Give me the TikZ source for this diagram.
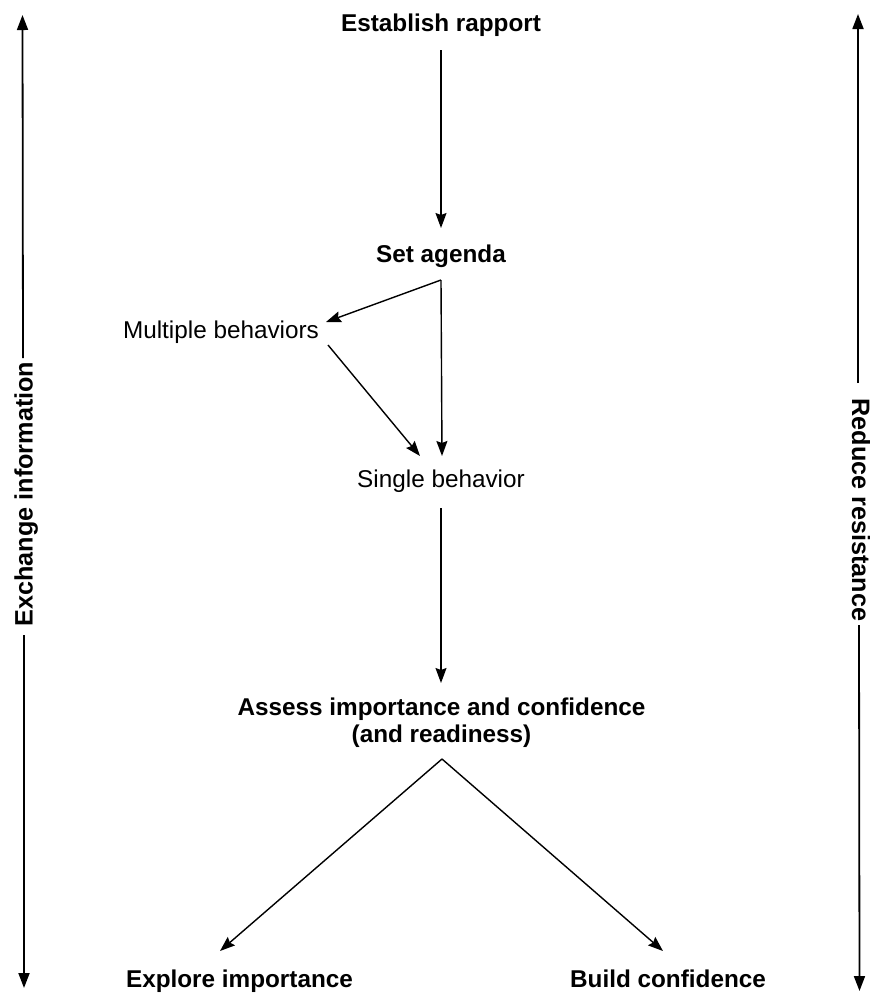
\documentclass[tikz,border=0pt]{standalone}
\usepackage{fontspec}
\setmainfont{Liberation Sans}
\usetikzlibrary{arrows.meta}
\begin{document}
\begin{tikzpicture}[x=1pt,y=-1pt,
  lbl/.style={inner sep=0pt, font=\fontsize{24.3}{27}\selectfont\bfseries, anchor=base, align=center},
  plainlbl/.style={inner sep=0pt, font=\fontsize{24.3}{27}\selectfont, anchor=base},
  side/.style={inner sep=0pt, font=\fontsize{25.2}{28}\selectfont\bfseries, anchor=base},
  flow/.style={line width=1.4pt, -{Stealth[length=15pt,width=11pt,inset=2pt]}},
  sidearrow/.style={line width=1.8pt, -{Triangle[length=15pt,width=11pt]}}]
\useasboundingbox (0,0) rectangle (870,994);

% nodes
\node[lbl] (rapport) at (441,31) {Establish rapport};
\node[lbl] (agenda) at (441,262) {Set agenda};
\node[plainlbl] (multi) at (221,338) {Multiple behaviors};
\node[plainlbl] (single) at (441,487) {Single behavior};
\node[lbl] (assess) at (441.5,742) {Assess importance and confidence\\(and readiness)};
\node[lbl] (explore) at (239.5,987) {Explore importance};
\node[lbl] (build) at (668,987) {Build confidence};
\node[side, rotate=90] (exch) at (32.5,494) {Exchange information};
\node[side, rotate=-90] (reduce) at (852,510) {Reduce resistance};

% connector end points
\coordinate (rapportS) at (441,50);
\coordinate (agendaN) at (441,228);
\coordinate (agendaS) at (441,280);
\coordinate (multiE) at (326,322);
\coordinate (multiSE) at (328,345);
\coordinate (singleN) at (442,456);
\coordinate (singleNW) at (420,456);
\coordinate (singleS) at (441,508);
\coordinate (assessN) at (441,683);
\coordinate (assessS) at (442,759);
\coordinate (exploreN) at (220,951);
\coordinate (buildN) at (663,951);

\coordinate (exchTop) at (23,358);
\coordinate (exchTopTip) at (22.5,15);
\coordinate (exchBot) at (24,635);
\coordinate (exchBotTip) at (24,988);
\coordinate (redTop) at (858,383);
\coordinate (redTopTip) at (858,14);
\coordinate (redBot) at (859,625);
\coordinate (redBotTip) at (859.5,991);

% flow connectors
\draw[flow] (rapportS) -- (agendaN);
\draw[flow] (agendaS) -- (multiE);
\draw[flow] (agendaS) -- (singleN);
\draw[flow] (multiSE) -- (singleNW);
\draw[flow] (singleS) -- (assessN);
\draw[flow] (assessS) -- (exploreN);
\draw[flow] (assessS) -- (buildN);

% side arrows
\draw[sidearrow] (exchTop) -- (exchTopTip);
\draw[sidearrow] (exchBot) -- (exchBotTip);
\draw[sidearrow] (redTop) -- (redTopTip);
\draw[sidearrow] (redBot) -- (redBotTip);
\end{tikzpicture}
\end{document}
